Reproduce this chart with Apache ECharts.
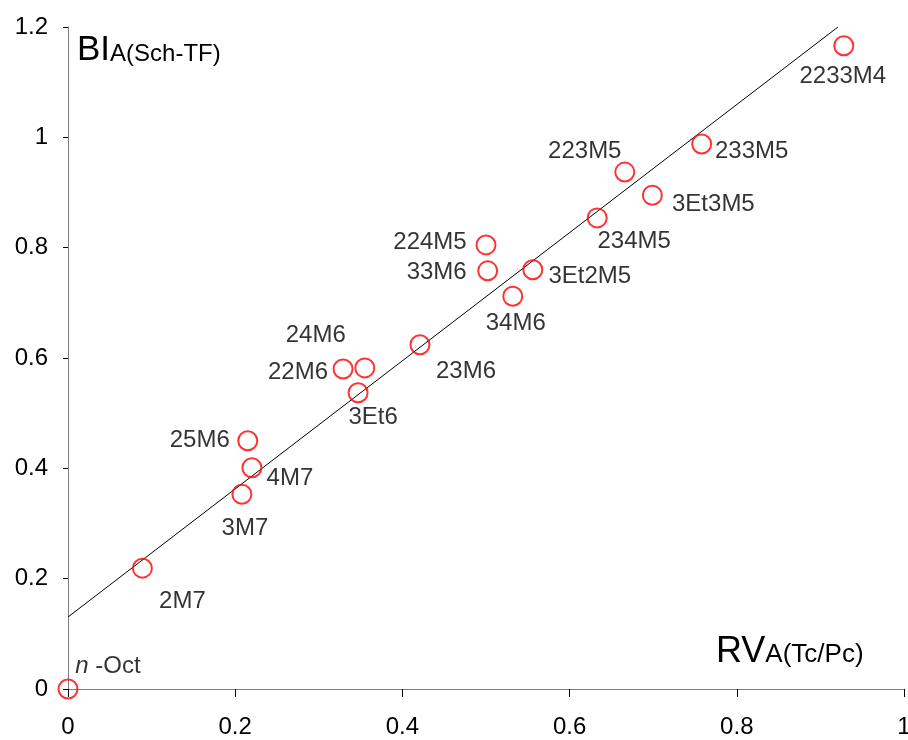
<!DOCTYPE html>
<html>
<head>
<meta charset="utf-8">
<script src="https://cdn.jsdelivr.net/npm/echarts@6/dist/echarts.min.js"></script>
<style>html,body{margin:0;padding:0;background:#fff;overflow:hidden}#c{width:908px;height:740px}</style>
</head>
<body>
<div id="c"></div>
<script>
// ---- data ----
var names = ['n-Oct','2M7','3M7','4M7','25M6','22M6','24M6','3Et6','23M6','34M6','33M6','224M5','3Et2M5','234M5','223M5','3Et3M5','233M5','2233M4'];
var xValues = [0, 0.089, 0.208, 0.220, 0.215, 0.329, 0.355, 0.347, 0.421, 0.532, 0.502, 0.500, 0.556, 0.633, 0.666, 0.699, 0.758, 0.928];
var yValues = [0, 0.219, 0.353, 0.401, 0.450, 0.580, 0.582, 0.537, 0.624, 0.712, 0.758, 0.805, 0.760, 0.854, 0.937, 0.895, 0.988, 1.166];
var fitLineX = [0, 0.921];
var fitLineY = [0.1305, 1.2];
var xTicks = [0, 0.2, 0.4, 0.6, 0.8, 1];
var yTicks = [0, 0.2, 0.4, 0.6, 0.8, 1, 1.2];

// label placement (pixel offsets of label centre from marker centre)
var labelOffsets = {
  'n-Oct':[40,-23], '2M7':[40,33], '3M7':[3,34], '4M7':[38,11], '25M6':[-48,0],
  '22M6':[-45,3], '24M6':[-49,-33], '3Et6':[15,25], '23M6':[46,27], '34M6':[3,27],
  '33M6':[-51,2], '224M5':[-56,-3], '3Et2M5':[57,7], '234M5':[37,23], '223M5':[-40,-21],
  '3Et3M5':[61,9], '233M5':[50,7], '2233M4':[-1,31]
};

var FONT = '"Liberation Sans", Arial, sans-serif';

var scatterData = names.map(function (n, i) {
  return {
    name: n,
    value: [xValues[i], yValues[i]],
    label: { offset: labelOffsets[n] }
  };
});
var lineData = fitLineX.map(function (x, i) { return [x, fitLineY[i]]; });

var chart = echarts.init(document.getElementById('c'), null, {renderer: 'canvas'});
chart.setOption({
  animation: false,
  backgroundColor: '#ffffff',
  grid: { left: 68, right: 4, top: 27, bottom: 51, containLabel: false, outerBoundsMode: 'none' },
  xAxis: {
    type: 'value', min: xTicks[0], max: xTicks[xTicks.length - 1], interval: 0.2,
    axisLine: { show: true, onZero: false, lineStyle: { color: '#808080', width: 1 } },
    axisTick: { show: true, inside: false, length: 8, lineStyle: { color: '#000' } },
    splitLine: { show: false },
    axisLabel: { color: '#000', fontSize: 24, fontFamily: FONT, margin: 26, hideOverlap: false }
  },
  yAxis: {
    type: 'value', min: yTicks[0], max: yTicks[yTicks.length - 1], interval: 0.2,
    axisLine: { show: true, onZero: false, lineStyle: { color: '#808080', width: 1 } },
    axisTick: { show: true, inside: false, length: 5, lineStyle: { color: '#000' } },
    splitLine: { show: false },
    axisLabel: { color: '#000', fontSize: 24, fontFamily: FONT, margin: 20, hideOverlap: false }
  },
  series: [
    {
      type: 'line', data: lineData, symbol: 'none', silent: true,
      lineStyle: { color: '#000', width: 1 }, z: 1
    },
    {
      type: 'scatter', data: scatterData, symbol: 'circle', symbolSize: 19, z: 2,
      itemStyle: { color: 'rgba(255,255,255,0)', borderColor: '#ff0000', borderWidth: 2 },
      label: {
        show: true, position: 'inside', color: '#000', fontSize: 24, fontFamily: FONT,
        formatter: function (p) {
          if (p.name === 'n-Oct') return '{it|n} -Oct';
          return p.name;
        },
        rich: { it: { fontStyle: 'italic', fontSize: 24, fontFamily: FONT, color: '#000' } }
      }
    }
  ],
  graphic: [
    {
      type: 'text', left: 77, top: 33, silent: true,
      style: {
        text: '{a|BI}{b|A(Sch-TF)}', fontFamily: FONT, fill: '#000',
        rich: {
          a: { fontSize: 35, fontFamily: FONT, verticalAlign: 'bottom', lineHeight: 38 },
          b: { fontSize: 24, fontFamily: FONT, verticalAlign: 'bottom', lineHeight: 38, padding: [0,0,2,0] }
        }
      }
    },
    {
      type: 'text', left: 716, top: 634, silent: true,
      style: {
        text: '{a|RV}{b|A(Tc/Pc)}', fontFamily: FONT, fill: '#000',
        rich: {
          a: { fontSize: 36, fontFamily: FONT, verticalAlign: 'bottom', lineHeight: 40 },
          b: { fontSize: 26, fontFamily: FONT, verticalAlign: 'bottom', lineHeight: 40, padding: [0,0,2,0] }
        }
      }
    }
  ]
});
</script>
</body>
</html>
